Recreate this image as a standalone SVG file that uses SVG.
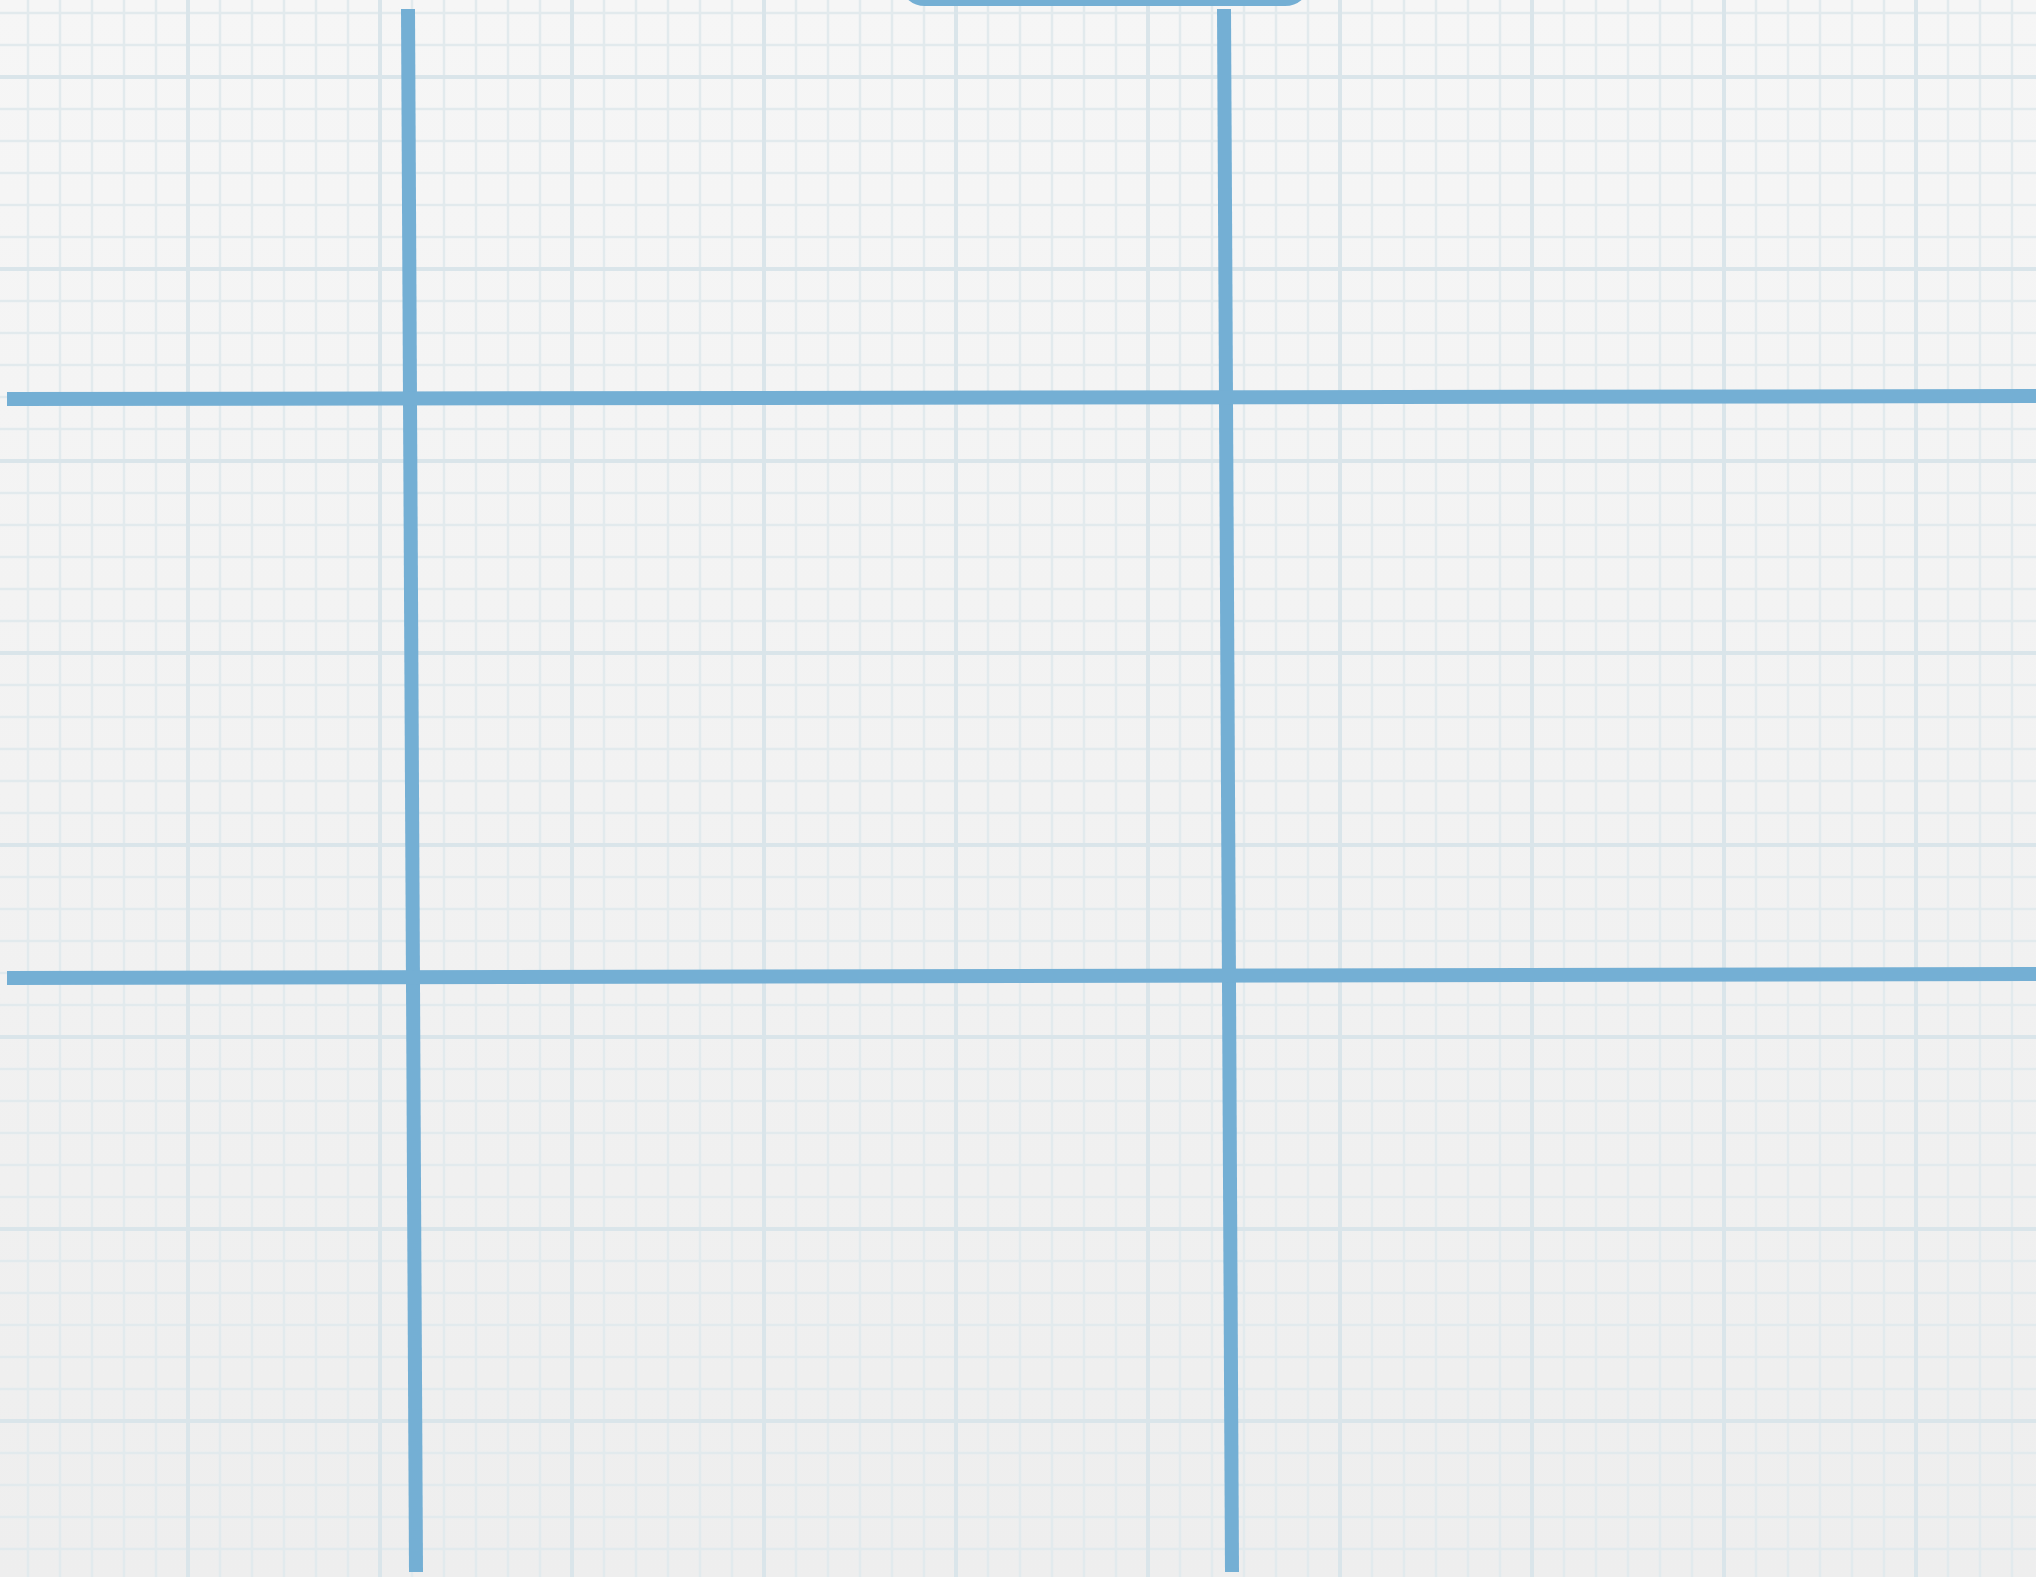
<svg xmlns="http://www.w3.org/2000/svg" width="2036" height="1577" viewBox="0 0 2036 1577">
<style>
.minor{stroke:#e2eaed;stroke-width:2.5;fill:none}
.major{stroke:#dae5ea;stroke-width:4;fill:none}
.blue{stroke:#74afd4;stroke-width:14;fill:none;stroke-linecap:butt}
</style>
<defs>
<linearGradient id="bg" x1="0" y1="0" x2="0" y2="1">
<stop offset="0" stop-color="#f6f6f6"/>
<stop offset="1" stop-color="#eeeeee"/>
</linearGradient>
<pattern id="minorGrid" patternUnits="userSpaceOnUse" x="12" y="-3" width="32" height="32">
<path class="minor" d="M16 0V32M0 16H32"/>
</pattern>
<pattern id="majorGrid" patternUnits="userSpaceOnUse" x="92" y="-19" width="192" height="192">
<path class="major" d="M96 0V192M0 96H192"/>
</pattern>
</defs>
<g id="background">
<rect width="2036" height="1577" fill="url(#bg)"/>
<rect width="2036" height="1577" fill="url(#minorGrid)"/>
<rect width="2036" height="1577" fill="url(#majorGrid)"/>
</g>
<g id="top-shape">
<rect x="903" y="-80" width="404" height="82" rx="22" ry="22" fill="#74afd4" stroke="#74afd4" stroke-width="8"/>
</g>
<g id="grid-lines">
<line class="blue" x1="408" y1="9" x2="416" y2="1572"/>
<line class="blue" x1="1224" y1="9" x2="1232" y2="1572"/>
<line class="blue" x1="7" y1="399" x2="2036" y2="396"/>
<line class="blue" x1="7" y1="978" x2="2036" y2="974"/>
</g>
</svg>
